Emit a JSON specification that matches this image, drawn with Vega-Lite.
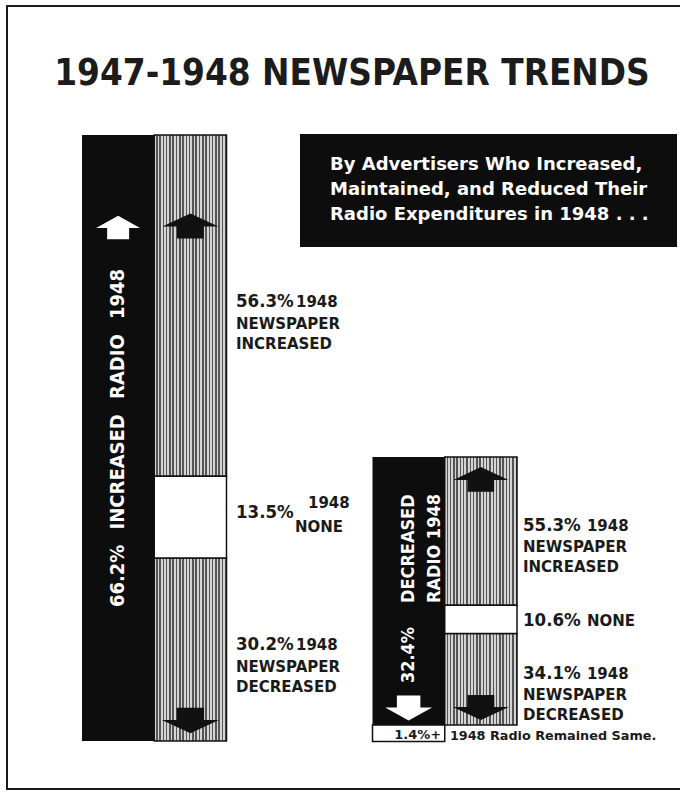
{
"$schema": "https://vega.github.io/schema/vega-lite/v6.json",
"width": 680,
"height": 783,
"autosize": {"type": "none"},
"padding": {"left": 7, "top": 6, "right": 0, "bottom": 6},
"background": "white",
"config": {"view": {"stroke": "#1a1a1a", "strokeWidth": 2}, "axis": {"disable": true}},
"title": {"text": "1947-1948 NEWSPAPER TRENDS", "font": "DejaVu Sans Condensed, sans-serif", "fontSize": 36.5, "fontWeight": "bold", "color": "#1c1c1c", "anchor": "middle", "frame": "group", "baseline": "alphabetic", "offset": -115, "dx": 5},
"datasets": {
  "radio": [
    {"status": "Increased", "pct": 66.2},
    {"status": "Decreased", "pct": 32.4},
    {"status": "Same", "pct": 1.4}
  ],
  "news": [
    {"group": "Increased", "radio": 66.2, "outcome": "Increased", "pct": 56.3},
    {"group": "Increased", "radio": 66.2, "outcome": "None", "pct": 13.5},
    {"group": "Increased", "radio": 66.2, "outcome": "Decreased", "pct": 30.2},
    {"group": "Decreased", "radio": 32.4, "outcome": "Increased", "pct": 55.3},
    {"group": "Decreased", "radio": 32.4, "outcome": "None", "pct": 10.6},
    {"group": "Decreased", "radio": 32.4, "outcome": "Decreased", "pct": 34.1}
  ]
},
"resolve": {"scale": {"y": "independent"}},
"layer": [
 {
  "data": {"name": "news"},
  "transform": [
    {"filter": "datum.group === 'Increased'"},
    {"calculate": "indexof(['Decreased','None','Increased'], datum.outcome)", "as": "ord"},
    {"stack": "pct", "groupby": ["group"], "sort": [{"field": "ord", "order": "ascending"}], "as": ["s0", "s1"]},
    {"calculate": "datum.radio * datum.s0 / 100", "as": "y0"},
    {"calculate": "datum.radio * datum.s1 / 100", "as": "y1"},
    {"calculate": "(datum.y0 + datum.y1) / 2", "as": "ym"},
    {"calculate": "format(datum.pct, '.1f') + '%'", "as": "plabel"},
    {"calculate": "'NEWSPAPER\\n' + upper(datum.outcome)", "as": "lines"}
  ],
  "layer": [
    {
      "data": {"name": "radio"},
      "transform": [{"filter": "datum.status === 'Increased'"}],
      "mark": {"type": "bar", "color": "#0d0d0d"},
      "encoding": {
        "x": {"field": "status", "type": "nominal", "scale": {"domain": ["Increased", "Decreased"], "range": [75, 510], "paddingInner": 0.5026, "paddingOuter": 0}},
        "xOffset": {"datum": "radio", "scale": {"domain": ["radio", "news"], "paddingInner": 0, "paddingOuter": 0}},
        "y": {"field": "pct", "type": "quantitative", "scale": {"domain": [-5.244, 80.292], "nice": false, "zero": false}},
        "y2": {"datum": 0}
      }
    },
    {
      "data": {"name": "radio"},
      "transform": [{"filter": "datum.status === 'Increased'"}],
      "mark": {"type": "point", "shape": "M0,-0.53L1,0.02L0.5,0.02L0.5,0.53L-0.5,0.53L-0.5,0.02L-1,0.02Z", "size": 1936, "filled": true, "color": "white", "opacity": 1, "strokeWidth": 0, "yOffset": 92.5},
      "encoding": {
        "x": {"field": "status", "type": "nominal"},
        "xOffset": {"datum": "radio"},
        "y": {"field": "pct", "type": "quantitative"}
      }
    },
    {
      "data": {"name": "radio"},
      "transform": [
        {"filter": "datum.status === 'Increased'"},
        {"calculate": "format(datum.pct, '.1f') + '%\u2002 INCREASED\u2002 RADIO\u2002 1948'", "as": "vlabel"},
        {"calculate": "datum.pct / 2", "as": "mid"}
      ],
      "mark": {"type": "text", "angle": 270, "align": "center", "baseline": "middle", "color": "white", "font": "DejaVu Sans Condensed, sans-serif", "fontWeight": "bold", "fontSize": 20, "xOffset": 2},
      "encoding": {
        "x": {"field": "status", "type": "nominal"},
        "xOffset": {"datum": "radio"},
        "y": {"field": "mid", "type": "quantitative"},
        "text": {"field": "vlabel"}
      }
    },
    {
      "transform": [{"filter": "datum.outcome !== 'None'"}],
      "mark": {"type": "rect", "stroke": "#111111", "strokeWidth": 1.5, "fill": {"gradient": "linear", "x1": 0, "x2": 1, "y1": 0, "y2": 0, "stops": [
        {"offset": 0, "color": "#d4d4d4"}, {"offset": 0.025, "color": "#d4d4d4"}, {"offset": 0.025, "color": "#555555"}, {"offset": 0.0455, "color": "#555555"},
        {"offset": 0.0455, "color": "#d4d4d4"}, {"offset": 0.0705, "color": "#d4d4d4"}, {"offset": 0.0705, "color": "#555555"}, {"offset": 0.0909, "color": "#555555"},
        {"offset": 0.0909, "color": "#d4d4d4"}, {"offset": 0.1159, "color": "#d4d4d4"}, {"offset": 0.1159, "color": "#555555"}, {"offset": 0.1364, "color": "#555555"},
        {"offset": 0.1364, "color": "#d4d4d4"}, {"offset": 0.1614, "color": "#d4d4d4"}, {"offset": 0.1614, "color": "#555555"}, {"offset": 0.1818, "color": "#555555"},
        {"offset": 0.1818, "color": "#d4d4d4"}, {"offset": 0.2068, "color": "#d4d4d4"}, {"offset": 0.2068, "color": "#555555"}, {"offset": 0.2273, "color": "#555555"},
        {"offset": 0.2273, "color": "#d4d4d4"}, {"offset": 0.2523, "color": "#d4d4d4"}, {"offset": 0.2523, "color": "#555555"}, {"offset": 0.2727, "color": "#555555"},
        {"offset": 0.2727, "color": "#d4d4d4"}, {"offset": 0.2977, "color": "#d4d4d4"}, {"offset": 0.2977, "color": "#555555"}, {"offset": 0.3182, "color": "#555555"},
        {"offset": 0.3182, "color": "#d4d4d4"}, {"offset": 0.3432, "color": "#d4d4d4"}, {"offset": 0.3432, "color": "#555555"}, {"offset": 0.3636, "color": "#555555"},
        {"offset": 0.3636, "color": "#d4d4d4"}, {"offset": 0.3886, "color": "#d4d4d4"}, {"offset": 0.3886, "color": "#555555"}, {"offset": 0.4091, "color": "#555555"},
        {"offset": 0.4091, "color": "#d4d4d4"}, {"offset": 0.4341, "color": "#d4d4d4"}, {"offset": 0.4341, "color": "#555555"}, {"offset": 0.4545, "color": "#555555"},
        {"offset": 0.4545, "color": "#d4d4d4"}, {"offset": 0.4795, "color": "#d4d4d4"}, {"offset": 0.4795, "color": "#555555"}, {"offset": 0.5, "color": "#555555"},
        {"offset": 0.5, "color": "#d4d4d4"}, {"offset": 0.525, "color": "#d4d4d4"}, {"offset": 0.525, "color": "#555555"}, {"offset": 0.5455, "color": "#555555"},
        {"offset": 0.5455, "color": "#d4d4d4"}, {"offset": 0.5705, "color": "#d4d4d4"}, {"offset": 0.5705, "color": "#555555"}, {"offset": 0.5909, "color": "#555555"},
        {"offset": 0.5909, "color": "#d4d4d4"}, {"offset": 0.6159, "color": "#d4d4d4"}, {"offset": 0.6159, "color": "#555555"}, {"offset": 0.6364, "color": "#555555"},
        {"offset": 0.6364, "color": "#d4d4d4"}, {"offset": 0.6614, "color": "#d4d4d4"}, {"offset": 0.6614, "color": "#555555"}, {"offset": 0.6818, "color": "#555555"},
        {"offset": 0.6818, "color": "#d4d4d4"}, {"offset": 0.7068, "color": "#d4d4d4"}, {"offset": 0.7068, "color": "#555555"}, {"offset": 0.7273, "color": "#555555"},
        {"offset": 0.7273, "color": "#d4d4d4"}, {"offset": 0.7523, "color": "#d4d4d4"}, {"offset": 0.7523, "color": "#555555"}, {"offset": 0.7727, "color": "#555555"},
        {"offset": 0.7727, "color": "#d4d4d4"}, {"offset": 0.7977, "color": "#d4d4d4"}, {"offset": 0.7977, "color": "#555555"}, {"offset": 0.8182, "color": "#555555"},
        {"offset": 0.8182, "color": "#d4d4d4"}, {"offset": 0.8432, "color": "#d4d4d4"}, {"offset": 0.8432, "color": "#555555"}, {"offset": 0.8636, "color": "#555555"},
        {"offset": 0.8636, "color": "#d4d4d4"}, {"offset": 0.8886, "color": "#d4d4d4"}, {"offset": 0.8886, "color": "#555555"}, {"offset": 0.9091, "color": "#555555"},
        {"offset": 0.9091, "color": "#d4d4d4"}, {"offset": 0.9341, "color": "#d4d4d4"}, {"offset": 0.9341, "color": "#555555"}, {"offset": 0.9545, "color": "#555555"},
        {"offset": 0.9545, "color": "#d4d4d4"}, {"offset": 0.9795, "color": "#d4d4d4"}, {"offset": 0.9795, "color": "#555555"}, {"offset": 1, "color": "#555555"}
      ]}},
      "encoding": {
        "x": {"field": "group", "type": "nominal"},
        "xOffset": {"datum": "news"},
        "y": {"field": "y1", "type": "quantitative"},
        "y2": {"field": "y0"}
      }
    },
    {
      "transform": [{"filter": "datum.outcome === 'None'"}],
      "mark": {"type": "rect", "fill": "white", "stroke": "#111111", "strokeWidth": 1.5},
      "encoding": {
        "x": {"field": "group", "type": "nominal"},
        "xOffset": {"datum": "news"},
        "y": {"field": "y1", "type": "quantitative"},
        "y2": {"field": "y0"}
      }
    },
    {
      "transform": [{"filter": "datum.outcome === 'Increased'"}],
      "mark": {"type": "point", "shape": "M0,-0.45L1,0.02L0.48,0.02L0.48,0.45L-0.48,0.45L-0.48,0.02L-1,0.02Z", "size": 3136, "filled": true, "color": "#111111", "opacity": 1, "strokeWidth": 0, "yOffset": 91},
      "encoding": {
        "x": {"field": "group", "type": "nominal"},
        "xOffset": {"datum": "news"},
        "y": {"field": "y1", "type": "quantitative"}
      }
    },
    {
      "transform": [{"filter": "datum.outcome === 'Decreased'"}],
      "mark": {"type": "point", "shape": "M0,0.45L1,-0.02L0.48,-0.02L0.48,-0.45L-0.48,-0.45L-0.48,-0.02L-1,-0.02Z", "size": 3249, "filled": true, "color": "#111111", "opacity": 1, "strokeWidth": 0, "yOffset": -20.5},
      "encoding": {
        "x": {"field": "group", "type": "nominal"},
        "xOffset": {"datum": "news"},
        "y": {"field": "y0", "type": "quantitative"}
      }
    },
    {
      "transform": [{"filter": "datum.outcome !== 'None'"}],
      "mark": {"type": "text", "align": "left", "baseline": "alphabetic", "font": "DejaVu Sans Condensed, sans-serif", "fontWeight": "bold", "fontSize": 18.5, "color": "#1a1a1a", "dx": 45.6, "dy": 1},
      "encoding": {
        "x": {"field": "group", "type": "nominal"},
        "xOffset": {"datum": "news"},
        "y": {"field": "ym", "type": "quantitative"},
        "text": {"field": "plabel"}
      }
    },
    {
      "transform": [{"filter": "datum.outcome !== 'None'"}],
      "mark": {"type": "text", "text": "1948", "align": "left", "baseline": "alphabetic", "font": "DejaVu Sans, sans-serif", "fontWeight": "bold", "fontSize": 15, "color": "#1a1a1a", "dx": 105.6, "dy": 1},
      "encoding": {
        "x": {"field": "group", "type": "nominal"},
        "xOffset": {"datum": "news"},
        "y": {"field": "ym", "type": "quantitative"}
      }
    },
    {
      "transform": [{"filter": "datum.outcome !== 'None'"}],
      "mark": {"type": "text", "align": "left", "baseline": "alphabetic", "lineBreak": "\n", "lineHeight": 20, "font": "DejaVu Sans, sans-serif", "fontWeight": "bold", "fontSize": 15, "color": "#1a1a1a", "dx": 45.6, "dy": 23},
      "encoding": {
        "x": {"field": "group", "type": "nominal"},
        "xOffset": {"datum": "news"},
        "y": {"field": "ym", "type": "quantitative"},
        "text": {"field": "lines"}
      }
    },
    {
      "transform": [{"filter": "datum.outcome === 'None'"}],
      "mark": {"type": "text", "align": "left", "baseline": "alphabetic", "font": "DejaVu Sans Condensed, sans-serif", "fontWeight": "bold", "fontSize": 18.5, "color": "#1a1a1a", "dx": 45.6, "dy": 1},
      "encoding": {
        "x": {"field": "group", "type": "nominal"},
        "xOffset": {"datum": "news"},
        "y": {"field": "ym", "type": "quantitative"},
        "text": {"field": "plabel"}
      }
    },
    {
      "transform": [{"filter": "datum.outcome === 'None'"}],
      "mark": {"type": "text", "text": "1948", "align": "left", "baseline": "alphabetic", "font": "DejaVu Sans, sans-serif", "fontWeight": "bold", "fontSize": 15, "color": "#1a1a1a", "dx": 117.6, "dy": -9},
      "encoding": {
        "x": {"field": "group", "type": "nominal"},
        "xOffset": {"datum": "news"},
        "y": {"field": "ym", "type": "quantitative"}
      }
    },
    {
      "transform": [{"filter": "datum.outcome === 'None'"}],
      "mark": {"type": "text", "text": "NONE", "align": "left", "baseline": "alphabetic", "font": "DejaVu Sans, sans-serif", "fontWeight": "bold", "fontSize": 15, "color": "#1a1a1a", "dx": 104.6, "dy": 15},
      "encoding": {
        "x": {"field": "group", "type": "nominal"},
        "xOffset": {"datum": "news"},
        "y": {"field": "ym", "type": "quantitative"}
      }
    },
    {
      "data": {"name": "radio"},
      "transform": [{"filter": "datum.status === 'Increased'"}],
      "mark": {"type": "bar", "color": "#0d0d0d", "width": 377, "xOffset": 43.75, "yOffset": -1, "y2Offset": 112},
      "encoding": {
        "x": {"datum": "Decreased", "type": "nominal"},
        "y": {"field": "pct", "type": "quantitative"},
        "y2": {"field": "pct"}
      }
    },
    {
      "data": {"name": "radio"},
      "transform": [{"filter": "datum.status === 'Increased'"}],
      "mark": {"type": "text", "text": ["By Advertisers Who Increased,", "Maintained, and Reduced Their", "Radio Expenditures in 1948 . . ."], "align": "left", "baseline": "alphabetic", "font": "DejaVu Sans, sans-serif", "fontWeight": "bold", "fontSize": 18, "lineHeight": 25, "color": "white", "xOffset": -114.75, "yOffset": 35},
      "encoding": {
        "x": {"datum": "Decreased", "type": "nominal"},
        "y": {"field": "pct", "type": "quantitative"}
      }
    }
  ]
 },
 {
  "data": {"name": "news"},
  "transform": [
    {"filter": "datum.group === 'Decreased'"},
    {"calculate": "'Same'", "as": "baseKey"},
    {"lookup": "baseKey", "from": {"data": {"name": "radio"}, "key": "status", "fields": ["pct"]}, "as": ["base"]},
    {"calculate": "indexof(['Decreased','None','Increased'], datum.outcome)", "as": "ord"},
    {"stack": "pct", "groupby": ["group"], "sort": [{"field": "ord", "order": "ascending"}], "as": ["s0", "s1"]},
    {"calculate": "datum.base + datum.radio * datum.s0 / 100", "as": "y0"},
    {"calculate": "datum.base + datum.radio * datum.s1 / 100", "as": "y1"},
    {"calculate": "(datum.y0 + datum.y1) / 2", "as": "ym"},
    {"calculate": "format(datum.pct, '.1f') + '%'", "as": "plabel"},
    {"calculate": "'NEWSPAPER\\n' + upper(datum.outcome)", "as": "lines"}
  ],
  "layer": [
    {
      "data": {"name": "radio"},
      "transform": [
        {"filter": "datum.status !== 'Increased'"},
        {"stack": "pct", "groupby": [], "sort": [{"field": "status", "order": "descending"}], "as": ["r0", "r1"]},
        {"filter": "datum.status === 'Decreased'"}
      ],
      "mark": {"type": "bar", "color": "#0d0d0d"},
      "encoding": {
        "x": {"field": "status", "type": "nominal"},
        "xOffset": {"datum": "radio"},
        "y": {"field": "r1", "type": "quantitative", "scale": {"domain": [-6.335, 88.32], "nice": false, "zero": false}},
        "y2": {"field": "r0"}
      }
    },
    {
      "data": {"name": "radio"},
      "transform": [
        {"filter": "datum.status !== 'Increased'"},
        {"stack": "pct", "groupby": [], "sort": [{"field": "status", "order": "descending"}], "as": ["r0", "r1"]},
        {"filter": "datum.status === 'Same'"}
      ],
      "mark": {"type": "bar", "fill": "white", "stroke": "#111111", "strokeWidth": 1.5, "y2Offset": 5},
      "encoding": {
        "x": {"datum": "Decreased", "type": "nominal"},
        "xOffset": {"datum": "radio"},
        "y": {"field": "r1", "type": "quantitative"},
        "y2": {"field": "r0"}
      }
    },
    {
      "data": {"name": "radio"},
      "transform": [
        {"filter": "datum.status === 'Same'"},
        {"calculate": "format(datum.pct, '.1f') + '%+'", "as": "slabel"},
        {"calculate": "0", "as": "zero"}
      ],
      "mark": {"type": "text", "align": "center", "baseline": "alphabetic", "font": "DejaVu Sans, sans-serif", "fontWeight": "bold", "fontSize": 13, "color": "#1a1a1a", "dx": 9, "dy": 2},
      "encoding": {
        "x": {"datum": "Decreased", "type": "nominal"},
        "xOffset": {"datum": "radio"},
        "y": {"field": "zero", "type": "quantitative"},
        "text": {"field": "slabel"}
      }
    },
    {
      "data": {"name": "radio"},
      "transform": [
        {"filter": "datum.status === 'Same'"},
        {"calculate": "0", "as": "zero"}
      ],
      "mark": {"type": "text", "text": "1948 Radio Remained Same.", "align": "left", "baseline": "alphabetic", "font": "DejaVu Sans, sans-serif", "fontWeight": "bold", "fontSize": 12.8, "color": "#1a1a1a", "dx": -31, "dy": 3},
      "encoding": {
        "x": {"datum": "Decreased", "type": "nominal"},
        "xOffset": {"datum": "news"},
        "y": {"field": "zero", "type": "quantitative"}
      }
    },
    {
      "data": {"name": "radio"},
      "transform": [
        {"filter": "datum.status !== 'Increased'"},
        {"stack": "pct", "groupby": [], "sort": [{"field": "status", "order": "descending"}], "as": ["r0", "r1"]},
        {"filter": "datum.status === 'Decreased'"}
      ],
      "mark": {"type": "point", "shape": "M0,0.53L1,-0.02L0.5,-0.02L0.5,-0.53L-0.5,-0.53L-0.5,-0.02L-1,-0.02Z", "size": 2209, "filled": true, "color": "white", "opacity": 1, "strokeWidth": 0, "yOffset": -17, "xOffset": -4},
      "encoding": {
        "x": {"field": "status", "type": "nominal"},
        "xOffset": {"datum": "radio"},
        "y": {"field": "r0", "type": "quantitative"}
      }
    },
    {
      "data": {"name": "radio"},
      "transform": [
        {"filter": "datum.status !== 'Increased'"},
        {"stack": "pct", "groupby": [], "sort": [{"field": "status", "order": "descending"}], "as": ["r0", "r1"]},
        {"filter": "datum.status === 'Decreased'"},
        {"calculate": "(datum.r0 + datum.r1) / 2", "as": "mid"}
      ],
      "mark": {"type": "text", "text": ["DECREASED", "RADIO 1948"], "angle": 270, "align": "left", "baseline": "middle", "lineHeight": 26, "color": "white", "font": "DejaVu Sans Condensed, sans-serif", "fontWeight": "bold", "fontSize": 18, "yOffset": 12},
      "encoding": {
        "x": {"field": "status", "type": "nominal"},
        "xOffset": {"datum": "radio"},
        "y": {"field": "mid", "type": "quantitative"}
      }
    },
    {
      "data": {"name": "radio"},
      "transform": [
        {"filter": "datum.status !== 'Increased'"},
        {"stack": "pct", "groupby": [], "sort": [{"field": "status", "order": "descending"}], "as": ["r0", "r1"]},
        {"filter": "datum.status === 'Decreased'"},
        {"calculate": "(datum.r0 + datum.r1) / 2", "as": "mid"},
        {"calculate": "format(datum.pct, '.1f') + '%'", "as": "vlabel"}
      ],
      "mark": {"type": "text", "angle": 270, "align": "center", "baseline": "middle", "color": "white", "font": "DejaVu Sans Condensed, sans-serif", "fontWeight": "bold", "fontSize": 18, "yOffset": 64},
      "encoding": {
        "x": {"field": "status", "type": "nominal"},
        "xOffset": {"datum": "radio"},
        "y": {"field": "mid", "type": "quantitative"},
        "text": {"field": "vlabel"}
      }
    },
    {
      "transform": [{"filter": "datum.outcome !== 'None'"}],
      "mark": {"type": "rect", "stroke": "#111111", "strokeWidth": 1.5, "fill": {"gradient": "linear", "x1": 0, "x2": 1, "y1": 0, "y2": 0, "stops": [
        {"offset": 0, "color": "#d4d4d4"}, {"offset": 0.025, "color": "#d4d4d4"}, {"offset": 0.025, "color": "#555555"}, {"offset": 0.0455, "color": "#555555"},
        {"offset": 0.0455, "color": "#d4d4d4"}, {"offset": 0.0705, "color": "#d4d4d4"}, {"offset": 0.0705, "color": "#555555"}, {"offset": 0.0909, "color": "#555555"},
        {"offset": 0.0909, "color": "#d4d4d4"}, {"offset": 0.1159, "color": "#d4d4d4"}, {"offset": 0.1159, "color": "#555555"}, {"offset": 0.1364, "color": "#555555"},
        {"offset": 0.1364, "color": "#d4d4d4"}, {"offset": 0.1614, "color": "#d4d4d4"}, {"offset": 0.1614, "color": "#555555"}, {"offset": 0.1818, "color": "#555555"},
        {"offset": 0.1818, "color": "#d4d4d4"}, {"offset": 0.2068, "color": "#d4d4d4"}, {"offset": 0.2068, "color": "#555555"}, {"offset": 0.2273, "color": "#555555"},
        {"offset": 0.2273, "color": "#d4d4d4"}, {"offset": 0.2523, "color": "#d4d4d4"}, {"offset": 0.2523, "color": "#555555"}, {"offset": 0.2727, "color": "#555555"},
        {"offset": 0.2727, "color": "#d4d4d4"}, {"offset": 0.2977, "color": "#d4d4d4"}, {"offset": 0.2977, "color": "#555555"}, {"offset": 0.3182, "color": "#555555"},
        {"offset": 0.3182, "color": "#d4d4d4"}, {"offset": 0.3432, "color": "#d4d4d4"}, {"offset": 0.3432, "color": "#555555"}, {"offset": 0.3636, "color": "#555555"},
        {"offset": 0.3636, "color": "#d4d4d4"}, {"offset": 0.3886, "color": "#d4d4d4"}, {"offset": 0.3886, "color": "#555555"}, {"offset": 0.4091, "color": "#555555"},
        {"offset": 0.4091, "color": "#d4d4d4"}, {"offset": 0.4341, "color": "#d4d4d4"}, {"offset": 0.4341, "color": "#555555"}, {"offset": 0.4545, "color": "#555555"},
        {"offset": 0.4545, "color": "#d4d4d4"}, {"offset": 0.4795, "color": "#d4d4d4"}, {"offset": 0.4795, "color": "#555555"}, {"offset": 0.5, "color": "#555555"},
        {"offset": 0.5, "color": "#d4d4d4"}, {"offset": 0.525, "color": "#d4d4d4"}, {"offset": 0.525, "color": "#555555"}, {"offset": 0.5455, "color": "#555555"},
        {"offset": 0.5455, "color": "#d4d4d4"}, {"offset": 0.5705, "color": "#d4d4d4"}, {"offset": 0.5705, "color": "#555555"}, {"offset": 0.5909, "color": "#555555"},
        {"offset": 0.5909, "color": "#d4d4d4"}, {"offset": 0.6159, "color": "#d4d4d4"}, {"offset": 0.6159, "color": "#555555"}, {"offset": 0.6364, "color": "#555555"},
        {"offset": 0.6364, "color": "#d4d4d4"}, {"offset": 0.6614, "color": "#d4d4d4"}, {"offset": 0.6614, "color": "#555555"}, {"offset": 0.6818, "color": "#555555"},
        {"offset": 0.6818, "color": "#d4d4d4"}, {"offset": 0.7068, "color": "#d4d4d4"}, {"offset": 0.7068, "color": "#555555"}, {"offset": 0.7273, "color": "#555555"},
        {"offset": 0.7273, "color": "#d4d4d4"}, {"offset": 0.7523, "color": "#d4d4d4"}, {"offset": 0.7523, "color": "#555555"}, {"offset": 0.7727, "color": "#555555"},
        {"offset": 0.7727, "color": "#d4d4d4"}, {"offset": 0.7977, "color": "#d4d4d4"}, {"offset": 0.7977, "color": "#555555"}, {"offset": 0.8182, "color": "#555555"},
        {"offset": 0.8182, "color": "#d4d4d4"}, {"offset": 0.8432, "color": "#d4d4d4"}, {"offset": 0.8432, "color": "#555555"}, {"offset": 0.8636, "color": "#555555"},
        {"offset": 0.8636, "color": "#d4d4d4"}, {"offset": 0.8886, "color": "#d4d4d4"}, {"offset": 0.8886, "color": "#555555"}, {"offset": 0.9091, "color": "#555555"},
        {"offset": 0.9091, "color": "#d4d4d4"}, {"offset": 0.9341, "color": "#d4d4d4"}, {"offset": 0.9341, "color": "#555555"}, {"offset": 0.9545, "color": "#555555"},
        {"offset": 0.9545, "color": "#d4d4d4"}, {"offset": 0.9795, "color": "#d4d4d4"}, {"offset": 0.9795, "color": "#555555"}, {"offset": 1, "color": "#555555"}
      ]}},
      "encoding": {
        "x": {"field": "group", "type": "nominal"},
        "xOffset": {"datum": "news"},
        "y": {"field": "y1", "type": "quantitative"},
        "y2": {"field": "y0"}
      }
    },
    {
      "transform": [{"filter": "datum.outcome === 'None'"}],
      "mark": {"type": "rect", "fill": "white", "stroke": "#111111", "strokeWidth": 1.5},
      "encoding": {
        "x": {"field": "group", "type": "nominal"},
        "xOffset": {"datum": "news"},
        "y": {"field": "y1", "type": "quantitative"},
        "y2": {"field": "y0"}
      }
    },
    {
      "transform": [{"filter": "datum.outcome === 'Increased'"}],
      "mark": {"type": "point", "shape": "M0,-0.45L1,0.02L0.48,0.02L0.48,0.45L-0.48,0.45L-0.48,0.02L-1,0.02Z", "size": 3025, "filled": true, "color": "#111111", "opacity": 1, "strokeWidth": 0, "yOffset": 22.5},
      "encoding": {
        "x": {"field": "group", "type": "nominal"},
        "xOffset": {"datum": "news"},
        "y": {"field": "y1", "type": "quantitative"}
      }
    },
    {
      "transform": [{"filter": "datum.outcome === 'Decreased'"}],
      "mark": {"type": "point", "shape": "M0,0.45L1,-0.02L0.48,-0.02L0.48,-0.45L-0.48,-0.45L-0.48,-0.02L-1,-0.02Z", "size": 3136, "filled": true, "color": "#111111", "opacity": 1, "strokeWidth": 0, "yOffset": -17.5},
      "encoding": {
        "x": {"field": "group", "type": "nominal"},
        "xOffset": {"datum": "news"},
        "y": {"field": "y0", "type": "quantitative"}
      }
    },
    {
      "transform": [{"filter": "datum.outcome !== 'None'"}],
      "mark": {"type": "text", "align": "left", "baseline": "alphabetic", "font": "DejaVu Sans Condensed, sans-serif", "fontWeight": "bold", "fontSize": 18.5, "color": "#1a1a1a", "dx": 42.1, "dy": 0},
      "encoding": {
        "x": {"field": "group", "type": "nominal"},
        "xOffset": {"datum": "news"},
        "y": {"field": "ym", "type": "quantitative"},
        "text": {"field": "plabel"}
      }
    },
    {
      "transform": [{"filter": "datum.outcome !== 'None'"}],
      "mark": {"type": "text", "text": "1948", "align": "left", "baseline": "alphabetic", "font": "DejaVu Sans, sans-serif", "fontWeight": "bold", "fontSize": 15, "color": "#1a1a1a", "dx": 106, "dy": 0},
      "encoding": {
        "x": {"field": "group", "type": "nominal"},
        "xOffset": {"datum": "news"},
        "y": {"field": "ym", "type": "quantitative"}
      }
    },
    {
      "transform": [{"filter": "datum.outcome !== 'None'"}],
      "mark": {"type": "text", "align": "left", "baseline": "alphabetic", "lineBreak": "\n", "lineHeight": 20, "font": "DejaVu Sans, sans-serif", "fontWeight": "bold", "fontSize": 15, "color": "#1a1a1a", "dx": 42.1, "dy": 21},
      "encoding": {
        "x": {"field": "group", "type": "nominal"},
        "xOffset": {"datum": "news"},
        "y": {"field": "ym", "type": "quantitative"},
        "text": {"field": "lines"}
      }
    },
    {
      "transform": [{"filter": "datum.outcome === 'None'"}],
      "mark": {"type": "text", "align": "left", "baseline": "alphabetic", "font": "DejaVu Sans Condensed, sans-serif", "fontWeight": "bold", "fontSize": 18.5, "color": "#1a1a1a", "dx": 42.1, "dy": 7},
      "encoding": {
        "x": {"field": "group", "type": "nominal"},
        "xOffset": {"datum": "news"},
        "y": {"field": "ym", "type": "quantitative"},
        "text": {"field": "plabel"}
      }
    },
    {
      "transform": [{"filter": "datum.outcome === 'None'"}],
      "mark": {"type": "text", "text": "NONE", "align": "left", "baseline": "alphabetic", "font": "DejaVu Sans, sans-serif", "fontWeight": "bold", "fontSize": 15, "color": "#1a1a1a", "dx": 106, "dy": 7},
      "encoding": {
        "x": {"field": "group", "type": "nominal"},
        "xOffset": {"datum": "news"},
        "y": {"field": "ym", "type": "quantitative"}
      }
    }
  ]
 }
]
}
